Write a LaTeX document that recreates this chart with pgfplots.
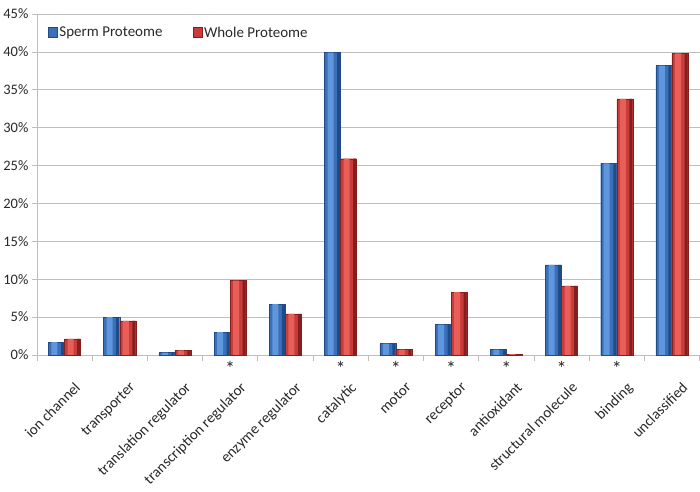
\documentclass[border=0pt]{standalone}
\usepackage{pgfplots}
\pgfplotsset{compat=1.18}
\usepackage{fontspec}
\setmainfont{Carlito}

\definecolor{bluemid}{RGB}{58,112,185}
\definecolor{bluelight}{RGB}{95,150,220}
\definecolor{bluedark}{RGB}{32,75,135}
\definecolor{redmid}{RGB}{200,60,58}
\definecolor{redlight}{RGB}{232,95,90}
\definecolor{reddark}{RGB}{135,30,30}
\definecolor{gridgray}{RGB}{190,190,190}
\definecolor{textgray}{RGB}{40,40,40}

\pgfplotstableread{
x sperm whole
0 1.7 2.1
1 5.0 4.5
2 0.3 0.6
3 3.0 9.8
4 6.7 5.4
5 39.9 25.9
6 1.5 0.7
7 4.0 8.3
8 0.7 0.1
9 11.9 9.1
10 25.3 33.8
11 38.2 39.8
}\datatable

\begin{document}
\begin{tikzpicture}
    \begin{axis}[
        width=661bp,
        height=340bp,
        scale only axis,
        ybar=0pt,
        bar width=16bp,
        ymin=0, ymax=45,
        xmin=-0.5, xmax=11.5,
        ytick={0,5,...,45},
        yticklabel={\pgfmathprintnumber{\tick}\%},
        xtick={0,...,11},
        xticklabels={ion channel, transporter, translation regulator,
            transcription regulator, enzyme regulator, catalytic, motor,
            receptor, antioxidant, structural molecule, binding, unclassified},
        minor xtick={-0.5,0.5,...,11.5},
        major x tick style={draw=none},
        minor tick length=6bp,
        major tick length=5bp,
        tick align=outside,
        tick style={gridgray, line width=0.8pt},
        axis lines*=left,
        axis line style={gridgray, line width=0.8pt},
        ymajorgrids,
        grid style={gridgray, line width=0.8pt},
        xticklabel style={rotate=45, anchor=north east, yshift=-18bp, xshift=-5bp,
            font=\fontsize{15}{17}\selectfont, text=textgray},
        yticklabel style={font=\fontsize{14.5}{16}\selectfont, text=textgray},
        /pgf/number format/assume math mode=true,
        legend style={at={(0.012,0.975)}, anchor=north west, draw=none, fill=none,
            legend columns=2, font=\fontsize{15}{17}\selectfont, text=textgray,
            /tikz/every even column/.append style={column sep=28bp}},
        legend image code/.code={
            \draw[#1] (0bp,-4bp) rectangle (9bp,5bp);
        },
        clip=false,
    ]
        % base bars
        \addplot[draw=bluedark, fill=bluemid] table[x=x, y=sperm] {\datatable};
        \addplot[draw=reddark, fill=redmid] table[x=x, y=whole] {\datatable};
        \legend{Sperm Proteome, Whole Proteome}
        % highlight and shadow bands for the glossy look
        \addplot[forget plot, draw=none, fill=bluelight, bar width=6bp, bar shift=-10bp]
            table[x=x, y=sperm] {\datatable};
        \addplot[forget plot, draw=none, fill=bluedark, bar width=3bp, bar shift=-2bp]
            table[x=x, y=sperm] {\datatable};
        \addplot[forget plot, draw=none, fill=redlight, bar width=6bp, bar shift=6bp]
            table[x=x, y=whole] {\datatable};
        \addplot[forget plot, draw=none, fill=reddark, bar width=3bp, bar shift=14bp]
            table[x=x, y=whole] {\datatable};
        \pgfplotsinvokeforeach{3,5,6,7,8,9,10}{
            \node[text=textgray, font=\fontsize{20}{20}\selectfont, anchor=north]
                at (axis cs:#1,0) [yshift=-3bp] {*};
        }
        \path (rel axis cs:0,1) ++(0,14bp);
    \end{axis}
\end{tikzpicture}
\end{document}
